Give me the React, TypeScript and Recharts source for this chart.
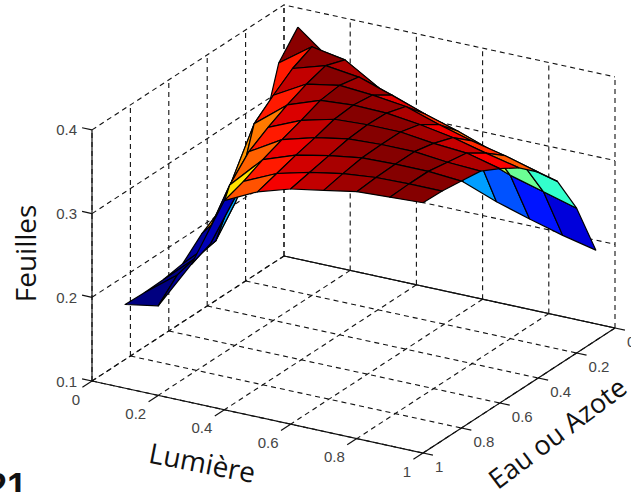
import { Scatter, ScatterChart, XAxis, YAxis } from 'recharts';

const WIDTH = 631;
const HEIGHT = 492;

const lumiere = [0.1, 0.2, 0.3, 0.4, 0.5, 0.6, 0.7, 0.8, 0.9, 1];
const eau = [0.1, 0.2, 0.3, 0.4, 0.5, 0.6, 0.7, 0.8, 0.9, 1];

// Rows follow eau, columns follow lumiere.
const feuilles = [
  [0.397, 0.366, 0.33, 0.295, 0.273, 0.255, 0.24, 0.228, 0.217, 0.208],
  [0.369, 0.397, 0.39, 0.366, 0.346, 0.33, 0.31, 0.295, 0.284, 0.273],
  [0.285, 0.386, 0.398, 0.393, 0.38, 0.366, 0.354, 0.34, 0.33, 0.32],
  [0.265, 0.369, 0.391, 0.398, 0.395, 0.39, 0.377, 0.366, 0.357, 0.346],
  [0.24, 0.35, 0.381, 0.395, 0.398, 0.397, 0.392, 0.385, 0.375, 0.366],
  [0.225, 0.27, 0.369, 0.386, 0.396, 0.398, 0.398, 0.393, 0.39, 0.38],
  [0.204, 0.24, 0.355, 0.378, 0.389, 0.396, 0.398, 0.398, 0.394, 0.392],
  [0.2, 0.235, 0.33, 0.369, 0.383, 0.391, 0.397, 0.398, 0.398, 0.395],
  [0.199, 0.229, 0.275, 0.358, 0.376, 0.386, 0.393, 0.397, 0.398, 0.398],
  [0.2, 0.207, 0.265, 0.35, 0.369, 0.381, 0.388, 0.395, 0.397, 0.399],
];

const foldColours = [
  { light: 1, water: 5, level: 0.257 },
  { light: 1, water: 6, level: 0.206 },
  { light: 1, water: 7, level: 0.204 },
  { light: 1, water: 8, level: 0.203 },
  { light: 2, water: 8, level: 0.21 },
  { light: 0, water: 2, level: 0.3 },
  { light: 0, water: 3, level: 0.3 },
  { light: 0, water: 4, level: 0.345 },
  { light: 0, water: 5, level: 0.205 },
];

const planTicks = [0, 0.2, 0.4, 0.6, 0.8, 1];
const zTicks = [0.1, 0.2, 0.3, 0.4];

const Z_MIN = 0.1;
const Z_MAX = 0.4;

// Orthographic view of the MATLAB box, into the chart's flat x/y plane.
const project = (l: number, e: number, z: number) => ({
  x: 92 + 331 * l + 192 * (1 - e),
  y: 381 + 72 * l - 125 * (1 - e) - (z - Z_MIN) * 837,
});

const depth = (l: number, e: number, z: number) =>
  48192 * l + 83081 * e + 55199 * ((z - Z_MIN) / (Z_MAX - Z_MIN));

const jet = (t: number) => {
  const ch = (c: number) => Math.round(255 * Math.max(0, Math.min(1, 1.5 - Math.abs(4 * t - c))));
  return `rgb(${ch(3)},${ch(2)},${ch(1)})`;
};

const allZ = feuilles.flat();
const cMin = Math.min(...allZ);
const cMax = Math.max(...allZ);

const cells = feuilles
  .slice(0, -1)
  .flatMap((row, i) =>
    row.slice(0, -1).map((z, j) => {
      const corners: [number, number, number][] = [
        [lumiere[j], eau[i], z],
        [lumiere[j + 1], eau[i], row[j + 1]],
        [lumiere[j + 1], eau[i + 1], feuilles[i + 1][j + 1]],
        [lumiere[j], eau[i + 1], feuilles[i + 1][j]],
      ];
      const d = corners.reduce((sum, c) => sum + depth(c[0], c[1], c[2]), 0);
      const points = corners.map((c) => project(c[0], c[1], c[2]));
      const fold = foldColours.find((f) => f.light === j && f.water === i);
      return {
        key: `cell-${i}-${j}`,
        color: jet(((fold ? fold.level : z) - cMin) / (cMax - cMin)),
        depth: d,
        points: [...points, points[0]],
      };
    }),
  )
  .sort((a, b) => a.depth - b.depth);

const dashedLines = [
  ...planTicks.flatMap((t) => [
    [project(t, 0, Z_MIN), project(t, 1, Z_MIN)],
    [project(0, t, Z_MIN), project(1, t, Z_MIN)],
    [project(t, 0, Z_MIN), project(t, 0, Z_MAX)],
    [project(0, t, Z_MIN), project(0, t, Z_MAX)],
  ]),
  ...zTicks.flatMap((z) => [
    [project(0, 1, z), project(0, 0, z), project(1, 0, z)],
  ]),
];

const solidLines = [
  [project(0, 1, Z_MIN), project(0, 1, Z_MAX)],
  [project(0, 1, Z_MIN), project(1, 1, Z_MIN), project(1, 0, Z_MIN)],
  [project(0, 0, Z_MIN), project(1, 0, Z_MIN)],
  ...planTicks.map((t) => [project(t, 1, Z_MIN), project(t, 1.05, Z_MIN)]),
  ...planTicks.map((t) => [project(1, t, Z_MIN), project(1.03, t, Z_MIN)]),
  ...zTicks.map((z) => [project(0, 1, z), project(-0.03, 1, z)]),
];

const NoMark = () => null;

const textMark =
  (
    text: string,
    opts: {
      dx?: number;
      dy?: number;
      anchor?: 'start' | 'middle' | 'end';
      size?: number;
      rotate?: number;
      family?: string;
      weight?: string | number;
      color?: string;
    },
  ) =>
  (props: any) => {
    const x = props.cx + (opts.dx ?? 0);
    const y = props.cy + (opts.dy ?? 0);
    return (
      <text
        x={x}
        y={y}
        textAnchor={opts.anchor ?? 'middle'}
        dominantBaseline="central"
        fontFamily={opts.family ?? '"Liberation Sans", sans-serif'}
        fontSize={opts.size ?? 15}
        fontWeight={opts.weight ?? 'normal'}
        fill={opts.color ?? '#444'}
        transform={opts.rotate ? `rotate(${opts.rotate} ${x} ${y})` : undefined}
      >
        {text}
      </text>
    );
  };

const Polyline = ({ points, dashed, id }: any) => (
  <Scatter
    key={id}
    data={points}
    isAnimationActive={false}
    shape={NoMark}
    lineType="joint"
    line={
      dashed
        ? { stroke: '#111', strokeWidth: 1.1, strokeDasharray: '5 4', fill: 'none' }
        : { stroke: '#111', strokeWidth: 1.2, fill: 'none' }
    }
  />
);

export default function App() {
  return (
    <div style={{ position: 'absolute', left: 0, top: 0, width: WIDTH, height: HEIGHT, background: '#fff' }}>
      <ScatterChart width={WIDTH} height={HEIGHT} margin={{ top: 0, right: 0, bottom: 0, left: 0 }}>
        <XAxis type="number" dataKey="x" domain={[0, WIDTH]} hide allowDataOverflow />
        <YAxis type="number" dataKey="y" domain={[0, HEIGHT]} reversed hide allowDataOverflow />

        {dashedLines.map((points, i) => Polyline({ points, dashed: true, id: `grid-${i}` }))}
        {solidLines.map((points, i) => Polyline({ points, dashed: false, id: `axis-${i}` }))}

        {cells.map((cell) => (
          <Scatter
            key={cell.key}
            data={cell.points}
            isAnimationActive={false}
            shape={NoMark}
            lineType="joint"
            line={{ stroke: '#000', strokeWidth: 1.2, fill: cell.color, strokeLinejoin: 'round' }}
          />
        ))}

        {zTicks.map((z) => (
          <Scatter
            key={`zl-${z}`}
            data={[project(0, 1, z)]}
            isAnimationActive={false}
            shape={textMark(z.toFixed(1), { dx: -15, anchor: 'end' })}
          />
        ))}
        {planTicks.map((t) => (
          <Scatter
            key={`ll-${t}`}
            data={[project(t, 1, Z_MIN)]}
            isAnimationActive={false}
            shape={textMark(String(t), { dx: -12, dy: 18, anchor: 'end' })}
          />
        ))}
        {planTicks.map((t) => (
          <Scatter
            key={`el-${t}`}
            data={[project(1, t, Z_MIN)]}
            isAnimationActive={false}
            shape={textMark(String(t), { dx: 12, dy: 13, anchor: 'start' })}
          />
        ))}

        <Scatter
          data={[project(0, 1, 0.25)]}
          isAnimationActive={false}
          shape={textMark('Feuilles', { dx: -67, dy: -2, size: 28, rotate: -90, family: '"Open Sans", sans-serif', color: '#111' })}
        />
        <Scatter
          data={[project(0.5, 1, Z_MIN)]}
          isAnimationActive={false}
          shape={textMark('Lumière', { dx: -55, dy: 45, size: 28, rotate: 11, family: '"Open Sans", sans-serif', color: '#111' })}
        />
        <Scatter
          data={[project(1, 0.5, Z_MIN)]}
          isAnimationActive={false}
          shape={textMark('Eau ou Azote', { dx: 38, dy: 42, size: 27, rotate: -37, family: '"Open Sans", sans-serif', color: '#111' })}
        />
        <Scatter
          data={[project(0, 1, Z_MIN)]}
          isAnimationActive={false}
          shape={textMark('21', { dx: -65, dy: 105, anchor: 'end', size: 36, weight: 'bold', color: '#111' })}
        />
      </ScatterChart>
    </div>
  );
}
